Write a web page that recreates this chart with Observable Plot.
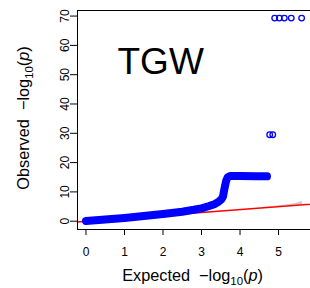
<!DOCTYPE html>
<html><head><meta charset="utf-8">
<script src="https://cdn.jsdelivr.net/npm/d3@7"></script>
<script src="https://cdn.jsdelivr.net/npm/@observablehq/plot@0.6"></script>
<style>html,body{margin:0;padding:0;background:#fff;overflow:hidden}</style>
</head><body><div id="chart"></div>
<script>
// QQ curve (expected vs observed -log10 p)
const expected = [0, 0.5, 1.0, 1.5, 2.0, 2.5, 2.8, 3.0, 3.2, 3.35, 3.45, 3.52, 3.56, 3.58, 3.61, 3.64, 3.68, 3.74, 4.0, 4.4, 4.7];
const observed = [0.05, 0.55, 1.1, 1.75, 2.45, 3.25, 3.9, 4.4, 5.2, 5.9, 6.7, 7.5, 8.5, 10.0, 12.0, 13.8, 15.0, 15.4, 15.4, 15.35, 15.3];
// isolated top points
const outlierX = [4.9, 5.02, 5.15, 5.33, 5.6, 4.77, 4.85];
const outlierY = [69.3, 69.3, 69.3, 69.3, 69.3, 29.5, 29.5];
// y = x reference line
const refX = [-0.5, 6.5];
const refY = [-0.5, 6.5];
// confidence band (upper part visible)
const ciX = [4.3, 4.8, 5.2, 5.45, 5.62];
const ciLow = [4.3, 4.8, 5.2, 5.45, 5.62];
const ciHigh = [4.35, 4.95, 5.55, 6.0, 6.7];
const xTicks = [0, 1, 2, 3, 4, 5];
const yTicks = [0, 10, 20, 30, 40, 50, 60, 70];
const panelLabel = "TGW";

const band = expected.map((x, i) => ({x, y: observed[i]}));
const outliers = outlierX.map((x, i) => ({x, y: outlierY[i]}));
const ref = refX.map((x, i) => ({x, y: refY[i]}));
const ci = ciX.map((x, i) => ({x, lo: ciLow[i], hi: ciHigh[i]}));

const font = "Liberation Sans, Arial, Helvetica, sans-serif";
const chart = Plot.plot({
  width: 310, height: 288,
  marginLeft: 77, marginRight: 0, marginTop: 10, marginBottom: 59,
  x: {domain: [-0.22, 5.83], label: null},
  y: {domain: [-2.83, 71.9], label: null},
  style: {fontFamily: font, fontSize: "12px", background: "#fff", color: "#000"},
  marks: [
    Plot.areaY(ci, {x: "x", y1: "lo", y2: "hi", fill: "#c8c8c8"}),
    Plot.line(ref, {x: "x", y: "y", stroke: "#ff0000", strokeWidth: 1.5, clip: true}),
    Plot.line(band, {x: "x", y: "y", stroke: "#0000ff", strokeWidth: 8, strokeLinecap: "round", strokeLinejoin: "round"}),
    Plot.dot(outliers, {x: "x", y: "y", r: 2.8, stroke: "#0000ff", strokeWidth: 1.3, fill: "none"}),
    Plot.text([panelLabel], {frameAnchor: "top-left", textAnchor: "start", lineAnchor: "top", dx: 40, dy: 37.7, fontSize: 37, fill: "#000", text: d => d}),
    Plot.frame({anchor: "top", stroke: "#000"}),
    Plot.frame({anchor: "left", stroke: "#000"}),
    Plot.frame({anchor: "bottom", stroke: "#000"}),
    Plot.axisX({ticks: xTicks, tickFormat: d => String(d), tickSize: 6, tickPadding: 11.5, fontSize: 12, stroke: "#000", fill: "#000", label: null}),
    Plot.axisY({ticks: yTicks, tickFormat: d => String(d), tickSize: 7, tickPadding: 2, tickRotate: -90, fontSize: 12, stroke: "#000", fill: "#000", label: null})
  ]
});
document.getElementById("chart").appendChild(chart);

// axis titles with subscript
function title(svg, transform, word) {
  const t = d3.select(svg).append("text")
    .attr("transform", transform)
    .attr("text-anchor", "middle")
    .attr("font-family", font)
    .attr("font-size", 16.3)
    .attr("fill", "#000");
  t.append("tspan").text(word + "\u00A0\u00A0\u2212log");
  t.append("tspan").attr("font-size", 11.4).attr("dy", 4).text("10");
  t.append("tspan").attr("dy", -4).text("(");
  t.append("tspan").attr("font-style", "italic").text("p");
  t.append("tspan").text(")");
}
title(chart, "translate(192.5,281)", "Expected");
title(chart, "translate(28.9,118) rotate(-90)", "Observed");
</script>
</body></html>
